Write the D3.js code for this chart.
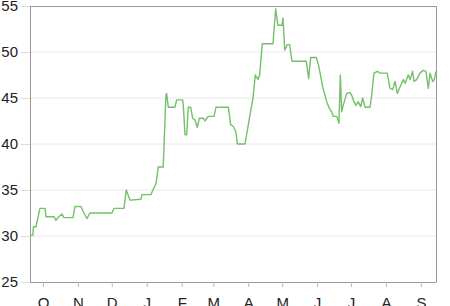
<!DOCTYPE html>
<html>
<head>
<meta charset="utf-8">
<script src="https://cdn.jsdelivr.net/npm/d3@7"></script>
<style>
  html, body { margin: 0; padding: 0; background: #fff; }
  svg { display: block; }
  text { font-family: "Liberation Sans", Arial, sans-serif; }
</style>
</head>
<body>
<svg id="chart" width="450" height="306"></svg>
<script>
// Days since 2012-10-01 and closing values
const baseDate = new Date(2012, 9, 1);
const dayOffsets = [
  -11.5, -8.9, -8.4, -6.2, -2.7, 1.8, 2.7, 9.8, 11.5, 13.3,
  16.8, 18.6, 26.6, 28.4, 33.7, 36.3, 39, 41.7, 61.2, 62.9,
  71.8, 73.8, 77.1, 86.9, 87.8, 95.7, 97.5, 100.2, 102.2, 106.6,
  109, 109.6, 111.1, 117, 118.5, 123.8, 124.4, 125.9, 127.4, 128.8,
  130.9, 132.7, 134.8, 136.8, 138.6, 142.1, 143.6, 146.5, 151.6, 153.4,
  164.3, 166.4, 168.7, 171.1, 172.3, 179.1, 184.7, 186.2, 188.2, 190.6,
  192.1, 194.4, 203.9, 206.3, 208.3, 211.9, 212.8, 214.3, 216.6, 218.7,
  220.7, 223.1, 233.4, 235.5, 237.3, 242.3, 244.4, 248, 251.5, 253.8,
  255.9, 257.4, 260.4, 262.4, 263.6, 264.8, 266.2, 269.2, 272.2, 274,
  275.7, 277.5, 279.5, 281.6, 283.4, 285.5, 289.9, 291.4, 293.4, 296.4,
  298.8, 305.2, 307.6, 310, 312.1, 314.1, 316.5, 319.4, 321, 323.8,
  325.4, 327.7, 328.9, 331.3, 334.2, 337.1, 339.5, 341.6, 343.1, 345.5,
  346.9, 348.4
];
const values = [
  30.1, 30.1, 31, 31, 33, 33, 32.1, 32.1, 31.7, 32,
  32.4, 32, 32, 33.2, 33.2, 32.5, 31.9, 32.5, 32.5, 33,
  33, 35, 33.9, 34, 34.5, 34.5, 35, 35.7, 37.5, 37.5,
  45.3, 45.5, 44, 44, 44.8, 44.8, 44.2, 41, 41, 44,
  44, 42.8, 42.6, 41.8, 42.8, 42.8, 42.5, 43, 43, 44,
  44, 42.1, 41.9, 41.3, 40, 40, 44, 45, 47.5, 47,
  47.5, 50.9, 50.9, 54.7, 52.9, 52.9, 53.7, 50.2, 50.8, 50.8,
  49, 49, 49, 47.1, 49.4, 49.4, 48.5, 46.2, 44.6, 43.9,
  43.5, 43, 43, 42.25, 47.5, 43.5, 44.2, 45.5, 45.6, 45.2,
  44.6, 44.2, 44.6, 44.05, 45, 44, 44, 45.3, 47.7, 47.9,
  47.7, 47.7, 46.05, 45.9, 46.8, 45.5, 46.2, 47, 46.6, 47.5,
  47, 47.9, 46.8, 47, 47.7, 48, 47.9, 46.05, 47.7, 46.8,
  47, 47.9
];
const yTicks = [25, 30, 35, 40, 45, 50, 55];

const data = dayOffsets.map((d, i) => ({
  date: new Date(baseDate.getTime() + d * 864e5),
  value: values[i]
}));

const margin = { top: 6, right: 14, bottom: 24, left: 30 };
const width = 450 - margin.left - margin.right;
const height = 306 - margin.top - margin.bottom;

const svg = d3.select("#chart");
const g = svg.append("g").attr("transform", `translate(${margin.left},${margin.top})`);

const x = d3.scaleTime().domain(d3.extent(data, d => d.date)).range([0, width]);
const y = d3.scaleLinear().domain([25, 55]).range([height, 0]);

// gridlines
g.append("g").selectAll("line").data(yTicks.filter(t => t > 25 && t < 55)).join("line")
  .attr("x1", 0).attr("x2", width)
  .attr("y1", d => y(d)).attr("y2", d => y(d))
  .attr("stroke", "#e8e8e8").attr("stroke-width", 1);

// frame top/right
g.append("line").attr("x1", 0).attr("x2", width).attr("y1", 0.5).attr("y2", 0.5)
  .attr("stroke", "#999");
g.append("line").attr("x1", width + 0.5).attr("x2", width + 0.5).attr("y1", 0).attr("y2", height)
  .attr("stroke", "#999");

// y axis
const yAxis = g.append("g")
  .call(d3.axisLeft(y).tickValues(yTicks).tickSize(9).tickPadding(3));
yAxis.select(".domain").attr("stroke", "#999");
yAxis.selectAll(".tick line").attr("stroke", "#ddd");
yAxis.selectAll("text").attr("font-size", 15).attr("fill", "#222")
  .attr("font-family", "Liberation Sans, Arial, sans-serif");

// x axis
const monthLetter = d => d3.timeFormat("%b")(d).charAt(0);
const xAxis = g.append("g").attr("transform", `translate(0,${height})`)
  .call(d3.axisBottom(x).ticks(d3.timeMonth.every(1)).tickFormat(monthLetter)
    .tickSizeInner(5).tickSizeOuter(0).tickPadding(10));
xAxis.select(".domain").attr("stroke", "#999");
xAxis.selectAll(".tick line").attr("stroke", "#bbb");
xAxis.selectAll("text").attr("font-size", 15).attr("fill", "#222")
  .attr("font-family", "Liberation Sans, Arial, sans-serif");

// line
const line = d3.line().x(d => x(d.date)).y(d => y(d.value));
g.append("path").datum(data)
  .attr("fill", "none")
  .attr("stroke", "#72c068")
  .attr("stroke-width", 1.4)
  .attr("stroke-linejoin", "round")
  .attr("d", line);
</script>
</body>
</html>
